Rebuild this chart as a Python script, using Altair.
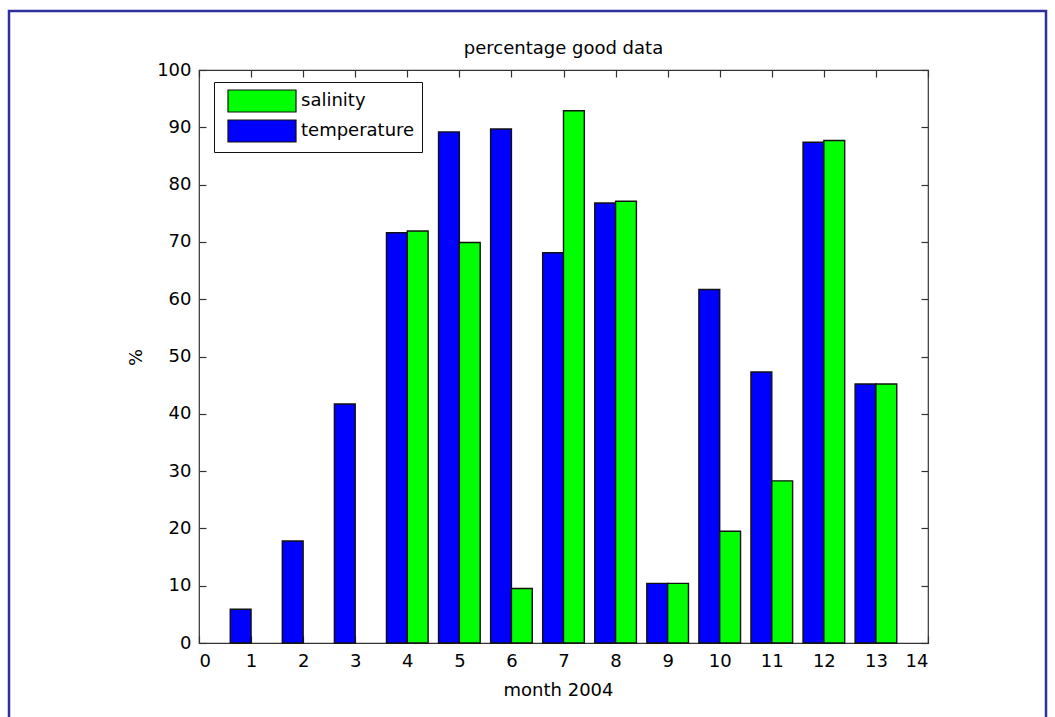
import altair as alt
import pandas as pd

# Percentage of good data per month, 2004
months = list(range(1, 14))
temperature = [5.9, 17.8, 41.7, 71.6, 89.2, 89.7, 68.1, 76.8, 10.4, 61.7, 47.3, 87.4, 45.2]
salinity = [0.0, 0.0, 0.0, 71.9, 69.9, 9.5, 92.9, 77.1, 10.4, 19.5, 28.3, 87.7, 45.2]
series_names = ["salinity", "temperature"]
series_colors = ["#00ff00", "#0000ff"]
x_ticks = list(range(0, 15))
y_ticks = list(range(0, 101, 10))

rows = []
for m, t, s in zip(months, temperature, salinity):
    rows.append({"month": m, "series": "temperature", "pct": t})
    rows.append({"month": m, "series": "salinity", "pct": s})
df = pd.DataFrame(rows)

FONT = "DejaVu Sans"
FS = 18
AX = "#333333"
W, H = 729, 573

x_scale = alt.Scale(domain=[0, 14], nice=False, zero=False)
y_scale = alt.Scale(domain=[0, 100], nice=False)

# grouped bars: temperature left of the month, salinity right of it
base = alt.Chart(df).transform_filter("datum.pct > 0").transform_calculate(
    x0="datum.series == 'temperature' ? datum.month - 0.4 : datum.month",
    x1="datum.series == 'temperature' ? datum.month : datum.month + 0.4",
)

bars = base.mark_bar(stroke="#111111", strokeWidth=1.4).encode(
    x=alt.X(
        "x0:Q",
        scale=x_scale,
        axis=alt.Axis(
            orient="bottom", values=x_ticks, title="month 2004", offset=-7,
            tickSize=7, domain=False, grid=False, labelPadding=9,
            titleX=359, titleY=54, titleBaseline="middle", titleAlign="center",
        ),
    ),
    x2="x1:Q",
    y=alt.Y(
        "pct:Q",
        scale=y_scale,
        axis=alt.Axis(
            orient="left", values=y_ticks, title="%", offset=-7, tickSize=7,
            domain=False, grid=False, labelPadding=8,
            titleX=-70, titleY=287, titleBaseline="middle", titleAlign="center",
        ),
    ),
    y2=alt.datum(0),
    color=alt.Color(
        "series:N",
        scale=alt.Scale(domain=series_names, range=series_colors),
        legend=alt.Legend(
            title=None, orient="none", legendX=15, legendY=12,
            direction="vertical",
            # wide swatch: path spans 6x2 units so the entry rows stay compact
            symbolType="M-3,-0.97H3V0.97H-3Z", symbolSize=514,
            symbolOffset=29,
            symbolStrokeColor="#111111", symbolStrokeWidth=1.2, symbolOpacity=1,
            labelFont=FONT, labelFontSize=FS, labelColor="black",
            labelOffset=27, rowPadding=2, padding=7,
            strokeColor="#111111", fillColor="white",
        ),
    ),
)

# mirrored ticks on the top and right edges of the box
mirror = base.mark_bar(opacity=0).encode(
    x=alt.X(
        "x0:Q", scale=x_scale,
        axis=alt.Axis(orient="top", values=x_ticks, labels=False, title=None,
                      offset=-7, tickSize=7, domain=False, grid=False),
    ),
    x2="x1:Q",
    y=alt.Y(
        "pct:Q", scale=y_scale,
        axis=alt.Axis(orient="right", values=y_ticks, labels=False, title=None,
                      offset=-7, tickSize=7, domain=False, grid=False),
    ),
    y2=alt.datum(0),
)

# figure frame
frame = alt.Chart(pd.DataFrame({"k": [0]})).mark_rect(
    filled=False, stroke="#2e2e9c", strokeWidth=2.5
).encode(
    x=alt.value(-190), x2=alt.value(847), y=alt.value(-59), y2=alt.value(720)
)

chart = (
    alt.layer(frame, bars, mirror)
    .resolve_axis(x="independent", y="independent")
    .properties(
        width=W,
        height=H,
        title=alt.TitleParams(
            "percentage good data", font=FONT, fontSize=FS,
            fontWeight="normal", color="black", anchor="middle", offset=12,
            dy=60,
        ),
        autosize=alt.AutoSizeParams(type="none"),
        padding={"left": 199, "top": 70, "right": 127, "bottom": 74},
        background="white",
    )
    .configure_view(stroke=AX, strokeWidth=1.2)
    .configure_axis(
        labelFont=FONT, labelFontSize=FS, labelColor="black",
        tickColor=AX, tickWidth=1.2,
        titleFont=FONT, titleFontSize=FS, titleFontWeight="normal",
        titleColor="black",
    )
)

chart.save("out.html", embed_options={"renderer": "svg", "actions": False})
